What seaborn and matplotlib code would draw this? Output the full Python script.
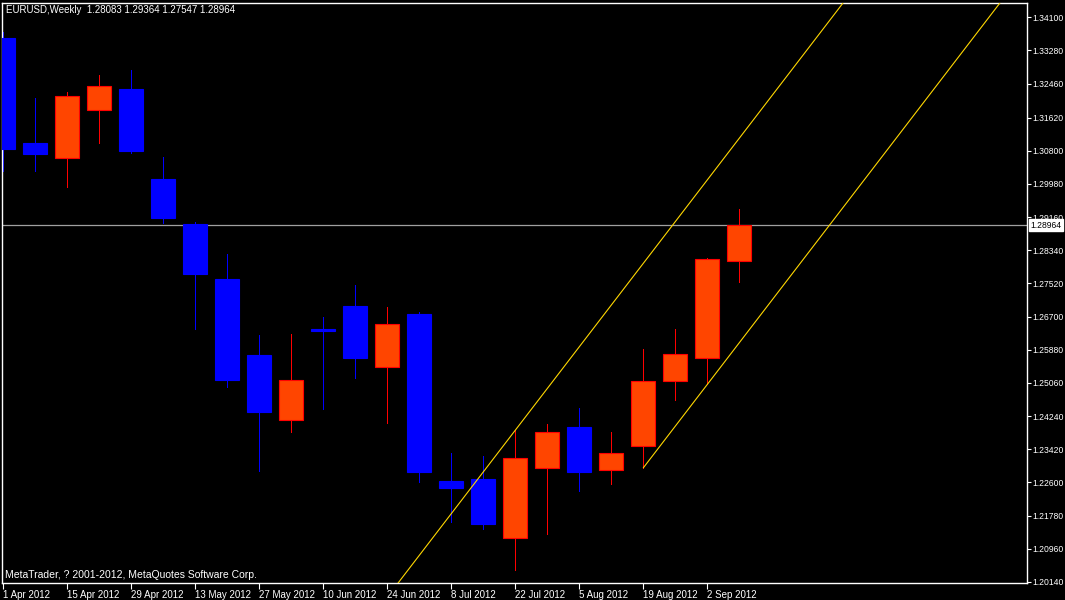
import numpy as np
import pandas as pd
import matplotlib
matplotlib.use('Agg')
import matplotlib.pyplot as plt
import seaborn as sns

# ==========================================
# data (EURUSD weekly)
# ==========================================
week_labels = ['1 Apr 2012', '15 Apr 2012', '29 Apr 2012', '13 May 2012', '27 May 2012', '10 Jun 2012',
               '24 Jun 2012', '8 Jul 2012', '22 Jul 2012', '5 Aug 2012', '19 Aug 2012', '2 Sep 2012']

opens = [1.33588, 1.30980, 1.30609, 1.31797, 1.32325, 1.30097, 1.28982, 1.27621, 1.25739, 1.24147, 1.26383, 1.26952,
         1.25459, 1.26754, 1.22644, 1.22694, 1.21226, 1.22959, 1.23981, 1.22909, 1.23503, 1.25113, 1.25682, 1.28083]
highs = [1.33743, 1.32102, 1.32251, 1.32671, 1.32795, 1.30641, 1.29032, 1.28240, 1.26234, 1.26259, 1.26680, 1.27472,
         1.26927, 1.26804, 1.23337, 1.23263, 1.23890, 1.24055, 1.24427, 1.23857, 1.25888, 1.26383, 1.28158, 1.29364]
lows = [1.30302, 1.30302, 1.29906, 1.30995, 1.30748, 1.29015, 1.26383, 1.24954, 1.22874, 1.23840, 1.24410, 1.25177,
        1.24063, 1.22602, 1.21612, 1.21439, 1.20423, 1.21332, 1.22397, 1.22553, 1.22959, 1.24632, 1.25038, 1.27547]
closes = [1.30839, 1.30723, 1.32144, 1.32392, 1.30790, 1.29138, 1.27752, 1.25128, 1.24335, 1.25137, 1.26341, 1.25672,
          1.26524, 1.22867, 1.22454, 1.21580, 1.23206, 1.23850, 1.22867, 1.23330, 1.25113, 1.25781, 1.28133, 1.28964]

price_ticks = [1.34100, 1.33280, 1.32460, 1.31620, 1.30800, 1.29980, 1.29160, 1.28340, 1.27520, 1.26700,
               1.25880, 1.25060, 1.24240, 1.23420, 1.22600, 1.21780, 1.20960, 1.20140]

last_price = 1.28964

# channel: upper line through bar 16 high, lower line from bar 20 low
chan_slope = 0.010315
chan_upper_anchor = (16, 1.23890)
chan_lower_anchor = (20, 1.22959)

UP_FILL, UP_EDGE = '#FF4500', '#FF0000'
DN_FILL, DN_EDGE = '#0000FF', '#0000FF'

# ==========================================
# plot
# ==========================================
sns.set_theme(style='dark', rc={'axes.facecolor': 'black', 'figure.facecolor': 'black',
                                'axes.edgecolor': 'white', 'text.color': 'white',
                                'xtick.color': 'white', 'ytick.color': 'white'})
plt.rcParams['font.family'] = ['Liberation Sans', 'DejaVu Sans']

df = pd.DataFrame({'o': opens, 'h': highs, 'l': lows, 'c': closes})
df['bar'] = np.arange(len(df))
df['up'] = df['c'] > df['o']

fig = plt.figure(figsize=(10.65, 6), dpi=100)
ax = fig.add_axes([2 / 1065, 17.3 / 600, 1025 / 1065, 580 / 600])

# wicks (1 px)
ax.vlines(df['bar'], df['l'], df['h'], colors=np.where(df['up'], UP_EDGE, DN_EDGE), linewidth=0.72,
          antialiased=False, zorder=2)
# bodies
ax.bar(df['bar'], (df['c'] - df['o']).abs(), bottom=df[['o', 'c']].min(axis=1), width=0.76,
       color=np.where(df['up'], UP_FILL, DN_FILL), edgecolor=np.where(df['up'], UP_EDGE, DN_EDGE),
       linewidth=0.8, zorder=3)

# current price line
ax.axhline(last_price, color='#A0A0A0', linewidth=0.9, zorder=1)

# channel lines
xu = np.array([10, 33])
sns.lineplot(x=xu, y=chan_upper_anchor[1] + chan_slope * (xu - chan_upper_anchor[0]), ax=ax,
             color='#FFD700', linewidth=0.8, zorder=4)
xl = np.array([chan_lower_anchor[0], 33])
sns.lineplot(x=xl, y=chan_lower_anchor[1] + chan_slope * (xl - chan_lower_anchor[0]), ax=ax,
             color='#FFD700', linewidth=0.8, zorder=4)

ax.set_xlim(-0.04, 31.99)
ax.set_ylim(1.20119, 1.34461)

ax.set_xticks(np.arange(0, 24, 2))
ax.set_xticklabels(week_labels, fontsize=7)
for lbl in ax.get_xticklabels():
    lbl.set_ha('left')
ax.tick_params(axis='x', direction='out', length=4, width=0.8, pad=1)

ax.yaxis.tick_right()
ax.set_yticks(price_ticks)
ax.set_yticklabels([f'{p:.5f}' for p in price_ticks], fontsize=6.2)
ax.tick_params(axis='y', direction='out', length=3, width=0.8, pad=1)
ax.tick_params(bottom=True, right=True, left=False, top=False)
ax.grid(False)
for sp in ax.spines.values():
    sp.set_color('white')
    sp.set_linewidth(1)
ax.set_xlabel('')
ax.set_ylabel('')

# last price box
ax.annotate(f'{last_price:.5f}', xy=(1.0, last_price), xycoords=('axes fraction', 'data'),
            xytext=(2.2, 0), textcoords='offset points', va='center', ha='left', fontsize=6.2, color='black',
            bbox=dict(boxstyle='square,pad=0.18', facecolor='white', edgecolor='white'))

fig.text(6 / 1065, 1 - 10 / 600, 'EURUSD,Weekly  1.28083 1.29364 1.27547 1.28964', fontsize=7,
         color='white', va='center', ha='left')
fig.text(5 / 1065, 1 - 575 / 600, 'MetaTrader, ? 2001-2012, MetaQuotes Software Corp.', fontsize=7.5,
         color='white', va='center', ha='left')

fig.savefig('out.png', dpi=100, facecolor='black')
